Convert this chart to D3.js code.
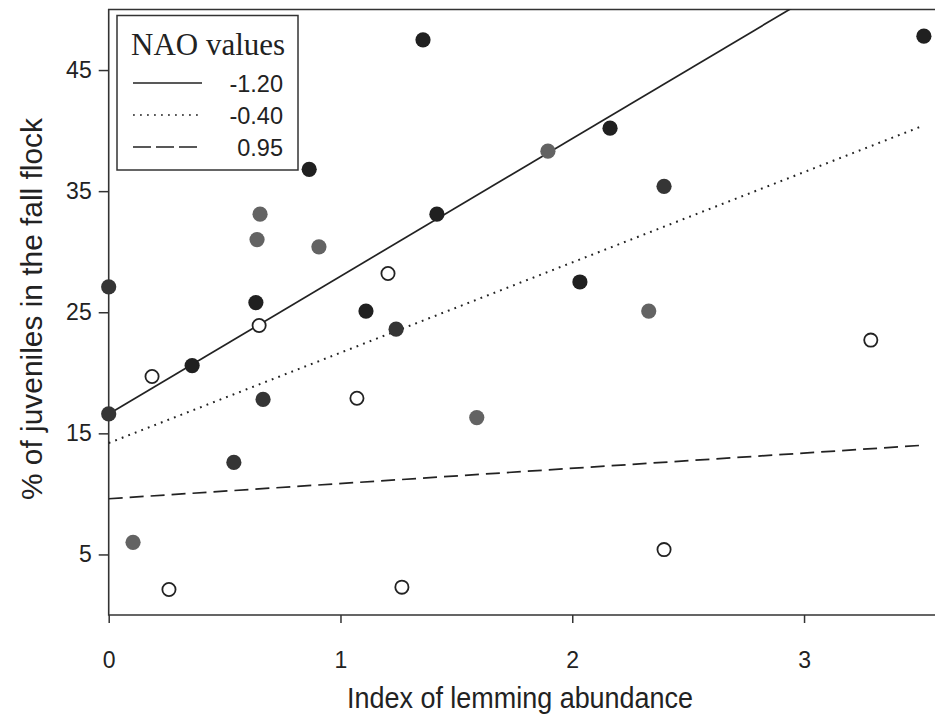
<!DOCTYPE html>
<html>
<head>
<meta charset="utf-8">
<script src="https://cdn.jsdelivr.net/npm/d3@7"></script>
<style>
  body { margin: 0; background: #fff; }
  svg { display: block; }
  .tick text { font-family: "Liberation Sans", Arial, sans-serif; fill: #222; }
</style>
</head>
<body>
<div class="chart"></div>
<script>
// fitted lines for three NAO values, y at x = 0 and x = 3.5
const naoLabels = ["-1.20", "-0.40", "0.95"];
const fitX = [0, 3.5];
const fitY = [
  [16.6, 56.4],
  [14.2, 40.3],
  [9.6, 14.0],
];

// points, grouped by fill
const blackX = [0.36, 0.635, 0.865, 1.11, 1.416, 1.356, 2.163, 2.033, 3.517];
const blackY = [20.6, 25.8, 36.8, 25.1, 33.1, 47.5, 40.2, 27.5, 47.8];
const darkX = [0, 0, 0.54, 0.666, 1.24, 2.396];
const darkY = [27.1, 16.6, 12.6, 17.8, 23.6, 35.4];
const grayX = [0.653, 0.64, 0.907, 1.895, 2.33, 1.588, 0.105];
const grayY = [33.1, 31.0, 30.4, 38.3, 25.1, 16.3, 6.0];
const openX = [0.187, 0.649, 1.205, 1.071, 0.26, 1.265, 2.396, 3.288];
const openY = [19.7, 23.9, 28.2, 17.9, 2.1, 2.3, 5.4, 22.7];

const xTicks = [0, 1, 2, 3];
const yTicks = [5, 15, 25, 35, 45];

const width = 935;
const height = 718;
const plotLeft = 108.7;
const plotTop = 9.5;
const plotBottom = 615;

const svg = d3
  .select(".chart")
  .append("svg")
  .attr("width", width)
  .attr("height", height);

const x = d3.scaleLinear().domain([0, 3.565]).range([plotLeft, width]);
const y = d3.scaleLinear().domain([0, 50]).range([plotBottom, plotTop]);

svg
  .append("defs")
  .append("clipPath")
  .attr("id", "plot")
  .append("rect")
  .attr("x", plotLeft)
  .attr("y", plotTop)
  .attr("width", width - plotLeft)
  .attr("height", plotBottom - plotTop);

// axes
const yAxis = svg
  .append("g")
  .attr("transform", `translate(${plotLeft},0)`)
  .call(
    d3.axisLeft(y).tickValues(yTicks).tickFormat(d3.format("d")).tickSize(10).tickPadding(7)
  );
yAxis.selectAll("text").attr("font-size", 23);

const xAxis = svg
  .append("g")
  .attr("transform", `translate(0,${plotBottom})`)
  .call(
    d3.axisBottom(x).tickValues(xTicks).tickFormat(d3.format("d")).tickSize(8).tickPadding(29)
  );
xAxis.selectAll("text").attr("font-size", 23);

svg.selectAll(".domain").remove();
svg.selectAll(".tick line").attr("stroke", "#333").attr("stroke-width", 1.5);

svg
  .append("path")
  .attr("d", `M${width},${plotTop}H${plotLeft}V${plotBottom}H${width}`)
  .attr("fill", "none")
  .attr("stroke", "#333")
  .attr("stroke-width", 1.6);

// fitted lines
const dashes = [null, "1.8,5.2", "14,7"];
const line = d3
  .line()
  .x((d) => x(d[0]))
  .y((d) => y(d[1]));

fitY.forEach((ys, i) => {
  svg
    .append("path")
    .attr("clip-path", "url(#plot)")
    .attr("d", line(fitX.map((v, j) => [v, ys[j]])))
    .attr("fill", "none")
    .attr("stroke", "#222")
    .attr("stroke-width", i === 1 ? 2 : 1.7)
    .attr("stroke-dasharray", dashes[i]);
});

// points
const groups = [
  { xs: grayX, ys: grayY, fill: "#636363", stroke: "none" },
  { xs: darkX, ys: darkY, fill: "#353535", stroke: "none" },
  { xs: blackX, ys: blackY, fill: "#202020", stroke: "none" },
  { xs: openX, ys: openY, fill: "#fff", stroke: "#222" },
];

groups.forEach((g) => {
  svg
    .append("g")
    .selectAll("circle")
    .data(g.xs.map((v, i) => [v, g.ys[i]]))
    .join("circle")
    .attr("cx", (d) => x(d[0]))
    .attr("cy", (d) => y(d[1]))
    .attr("r", g.stroke === "none" ? 7.6 : 6.6)
    .attr("fill", g.fill)
    .attr("stroke", g.stroke)
    .attr("stroke-width", 1.8);
});

// legend
const legend = svg.append("g");
legend
  .append("rect")
  .attr("x", 117)
  .attr("y", 15.5)
  .attr("width", 181)
  .attr("height", 154.5)
  .attr("fill", "#fff")
  .attr("stroke", "#333")
  .attr("stroke-width", 1.5);

legend
  .append("text")
  .attr("x", 131)
  .attr("y", 55)
  .attr("font-family", "Liberation Serif, Times New Roman, serif")
  .attr("font-size", 31)
  .attr("fill", "#222")
  .text("NAO values");

naoLabels.forEach((label, i) => {
  const ly = 83 + i * 32;
  legend
    .append("line")
    .attr("x1", 133)
    .attr("x2", 202)
    .attr("y1", ly)
    .attr("y2", ly)
    .attr("stroke", "#222")
    .attr("stroke-width", 1.7)
    .attr("stroke-dasharray", i === 2 ? "18,5" : dashes[i]);
  legend
    .append("text")
    .attr("x", 283)
    .attr("y", ly + 9)
    .attr("text-anchor", "end")
    .attr("font-family", "Liberation Sans, Arial, sans-serif")
    .attr("font-size", 23.5)
    .attr("fill", "#222")
    .text(label);
});

// axis titles, squeezed to the widths seen in the figure
svg
  .append("text")
  .attr("x", 520)
  .attr("y", 708)
  .attr("text-anchor", "middle")
  .attr("textLength", 346)
  .attr("lengthAdjust", "spacingAndGlyphs")
  .attr("font-family", "Liberation Sans, Arial, sans-serif")
  .attr("font-size", 30)
  .attr("fill", "#222")
  .text("Index of lemming abundance");

svg
  .append("text")
  .attr("transform", "translate(42,309) rotate(-90)")
  .attr("text-anchor", "middle")
  .attr("textLength", 382)
  .attr("lengthAdjust", "spacingAndGlyphs")
  .attr("font-family", "Liberation Sans, Arial, sans-serif")
  .attr("font-size", 30)
  .attr("fill", "#222")
  .text("% of juveniles in the fall flock");
</script>
</body>
</html>
